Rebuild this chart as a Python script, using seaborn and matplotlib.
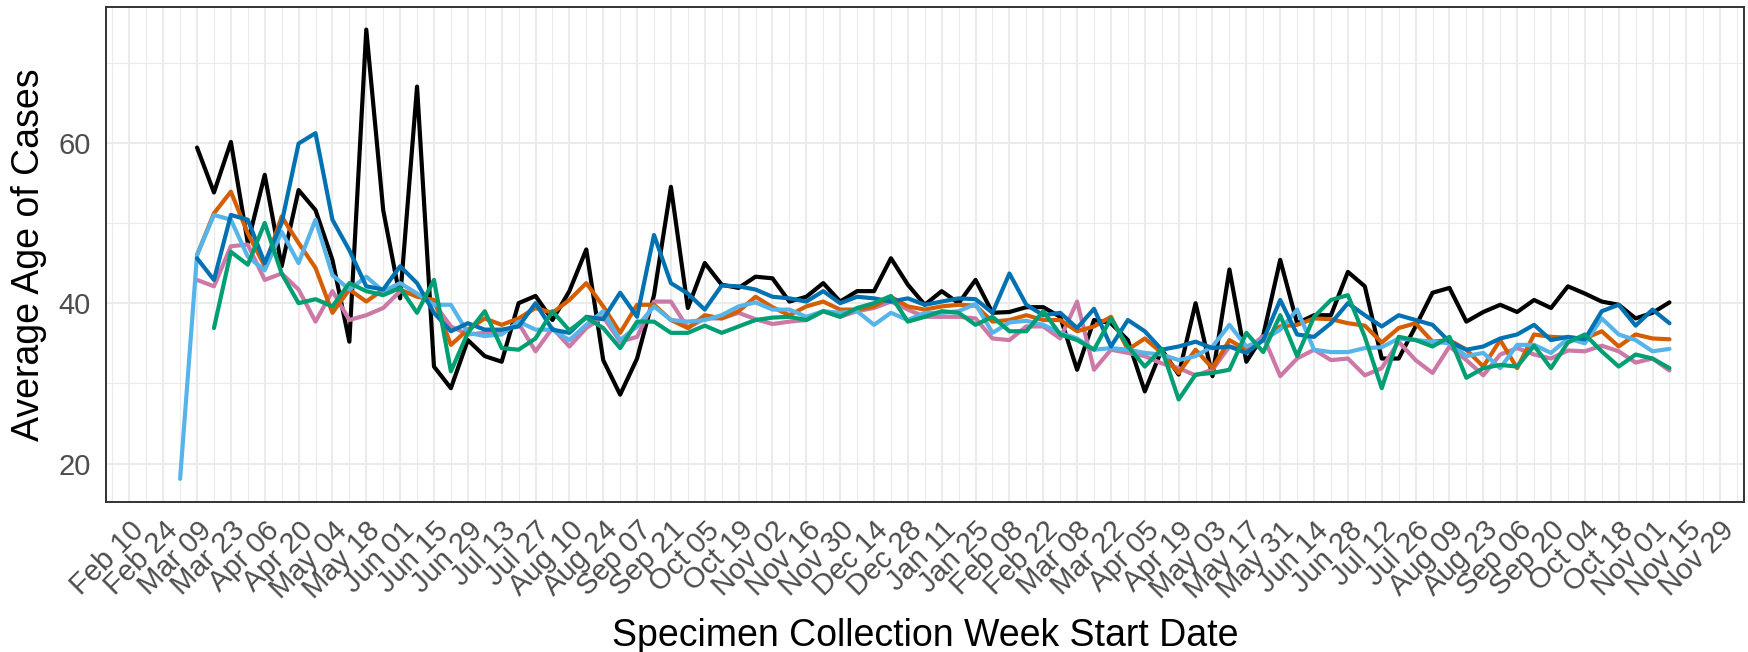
import numpy as np
import pandas as pd
import matplotlib
matplotlib.use("Agg")
import matplotlib.pyplot as plt
import matplotlib.dates as mdates
import seaborn as sns

nan = np.nan

# weekly values, week of 2020-03-02 .. 2021-11-08
black = [nan, 59.4, 53.8, 60.1, 47.5, 56.0, 44.6, 54.1, 51.6, 45.4,
         35.2, 74.1, 51.6, 40.6, 67.0, 32.1, 29.4, 35.4, 33.4, 32.7,
         40.0, 40.9, 37.9, 41.5, 46.7, 32.9, 28.6, 33.1, 41.0, 54.5,
         39.4, 45.0, 42.3, 41.9, 43.3, 43.1, 40.2, 40.8, 42.5, 40.2,
         41.5, 41.5, 45.6, 42.3, 39.8, 41.5, 40.0, 42.9, 38.8, 38.9,
         39.5, 39.5, 38.3, 31.7, 37.9, 37.5, 35.4, 29.0, 34.2, 31.1,
         40.0, 30.9, 44.2, 32.7, 36.0, 45.4, 37.5, 38.5, 38.5, 43.9,
         42.1, 33.1, 33.1, 37.1, 41.3, 41.9, 37.7, 38.9, 39.8, 38.9,
         40.4, 39.4, 42.1, 41.2, 40.2, 39.8, 38.1, 38.8, 40.1]

blue = [nan, 45.6, 42.9, 51.0, 50.4, 45.0, 50.0, 59.9, 61.2, 50.4,
        46.6, 42.1, 41.7, 44.6, 42.5, 38.8, 36.5, 37.5, 36.7, 36.7,
        37.1, 40.0, 36.7, 36.3, 38.3, 38.0, 41.3, 38.3, 48.5, 42.5,
        41.2, 39.2, 42.2, 42.1, 41.7, 40.8, 40.6, 40.2, 41.5, 40.0,
        40.8, 40.6, 40.2, 40.6, 39.8, 40.2, 40.6, 40.5, 38.8, 43.7,
        39.8, 38.5, 38.8, 36.9, 39.3, 34.6, 37.9, 36.5, 34.2, 34.6,
        35.2, 34.4, 34.6, 33.8, 35.4, 40.4, 36.1, 35.8, 37.5, 40.0,
        38.5, 37.1, 38.5, 37.9, 37.3, 35.2, 34.2, 34.6, 35.6, 36.1,
        37.3, 35.4, 35.8, 35.5, 39.0, 39.8, 37.2, 39.2, 37.5]

orange = [nan, 46.0, 51.2, 53.9, 48.7, 44.6, 50.8, 47.5, 44.4, 38.8,
          41.7, 40.2, 41.7, 41.7, 40.8, 40.4, 34.8, 36.7, 38.1, 37.3,
          38.1, 39.4, 38.8, 40.4, 42.5, 39.6, 36.3, 39.8, 39.8, 37.9,
          36.9, 38.5, 38.1, 39.0, 40.8, 39.5, 38.5, 39.6, 40.2, 39.2,
          39.2, 39.6, 40.8, 39.6, 39.2, 39.6, 39.8, 39.7, 37.7, 37.9,
          38.5, 37.9, 37.9, 36.5, 37.1, 38.3, 34.2, 35.6, 33.8, 31.3,
          34.2, 31.9, 35.4, 34.2, 35.4, 37.1, 37.3, 38.1, 38.0, 37.5,
          37.2, 35.1, 36.9, 37.5, 35.2, 35.4, 34.2, 32.1, 35.4, 31.9,
          36.1, 35.8, 35.7, 35.6, 36.5, 34.6, 36.1, 35.6, 35.5]

lightblue = [18.1, 46.0, 51.0, 50.4, 45.8, 44.1, 48.9, 45.0, 50.4, 43.5,
             41.7, 43.3, 41.5, 42.5, 41.2, 39.8, 39.8, 36.3, 35.9, 36.1,
             37.7, 36.7, 36.7, 35.4, 37.3, 39.0, 35.4, 37.1, 39.6, 37.9,
             37.7, 37.9, 38.5, 39.6, 40.1, 39.2, 39.2, 38.3, 39.0, 38.8,
             39.0, 37.3, 38.8, 37.9, 38.8, 38.8, 39.0, 39.9, 36.3, 37.6,
             37.8, 37.3, 36.3, 35.6, 34.2, 34.4, 34.2, 33.8, 33.6, 32.9,
             33.4, 34.6, 37.3, 34.6, 35.4, 36.7, 39.2, 34.2, 33.9, 33.9,
             34.4, 34.5, 35.6, 35.4, 35.2, 35.0, 33.4, 33.8, 31.9, 34.8,
             34.8, 33.8, 35.6, 35.0, 38.1, 36.1, 35.4, 34.0, 34.3]

pink = [nan, 42.9, 42.1, 47.1, 47.3, 42.9, 43.7, 41.7, 37.7, 41.5,
        37.9, 38.5, 39.4, 41.5, 41.0, 40.0, 37.1, 36.1, 36.3, 36.3,
        37.5, 34.0, 36.9, 34.6, 36.9, 38.3, 35.2, 35.8, 40.2, 40.2,
        36.9, 38.1, 38.1, 38.8, 38.0, 37.4, 37.7, 37.9, 39.0, 38.3,
        39.0, 39.4, 40.2, 39.2, 38.3, 38.3, 38.3, 38.1, 35.6, 35.4,
        37.1, 37.1, 35.6, 40.2, 31.7, 34.2, 33.8, 33.4, 32.5, 31.9,
        31.0, 31.7, 34.6, 34.2, 35.9, 30.9, 33.1, 34.2, 32.9, 33.1,
        31.0, 31.9, 35.2, 32.9, 31.3, 34.6, 32.9, 31.0, 33.6, 34.4,
        33.6, 33.1, 34.1, 34.0, 34.7, 34.0, 32.6, 33.1, 31.6]

green = [nan, nan, 36.9, 46.4, 44.8, 50.0, 43.7, 40.0, 40.5, 39.6,
         42.5, 41.5, 41.0, 41.9, 38.8, 42.9, 31.5, 36.3, 39.0, 34.4,
         34.2, 35.6, 39.0, 36.6, 38.2, 36.9, 34.4, 37.7, 37.7, 36.3,
         36.3, 37.2, 36.3, 37.1, 37.9, 38.2, 38.3, 37.9, 39.0, 38.3,
         39.4, 40.0, 40.9, 37.7, 38.3, 39.0, 38.8, 37.3, 38.3, 36.5,
         36.5, 39.0, 36.1, 35.4, 34.2, 38.1, 34.6, 32.1, 34.3, 28.0,
         31.1, 31.3, 31.7, 36.3, 33.9, 38.5, 33.4, 38.3, 40.4, 41.0,
         35.8, 29.4, 35.8, 35.4, 34.6, 35.8, 30.7, 31.9, 32.3, 32.1,
         34.7, 31.9, 35.1, 36.1, 34.0, 32.1, 33.6, 33.1, 31.9]

weeks = pd.date_range("2020-03-02", periods=len(black), freq="7D")

groups = ["black", "pink", "orange", "lightblue", "blue", "green"]
colors = {"black": "#000000", "orange": "#D55E00", "blue": "#0072B2",
          "pink": "#CC79A7", "green": "#009E73", "lightblue": "#56B4E9"}
series = {"black": black, "orange": orange, "blue": blue,
          "pink": pink, "green": green, "lightblue": lightblue}

df = pd.concat([pd.DataFrame({"week": weeks, "age": series[g], "group": g})
                for g in groups]).dropna()

sns.set_style("white")
plt.rcParams["font.family"] = ["Liberation Sans", "DejaVu Sans"]

fig, ax = plt.subplots(figsize=(17.49, 6.52), dpi=100)
fig.subplots_adjust(left=0.0604, right=0.9971, top=0.989, bottom=0.2305)

sns.lineplot(data=df, x="week", y="age", hue="group", hue_order=groups,
             palette=colors, estimator=None, linewidth=3.0, legend=False, ax=ax)

# ggplot-like limits with 5% expansion
pad = pd.Timedelta(days=0.05 * (weeks[-1] - weeks[0]).days)
ax.set_xlim(weeks[0] - pad, weeks[-1] + pad)
ax.set_ylim(15.25, 76.9)

major = pd.date_range("2020-02-10", "2021-11-29", freq="14D")
minor = pd.date_range("2020-02-03", "2021-12-06", freq="14D")
ax.xaxis.set_major_locator(matplotlib.ticker.FixedLocator(mdates.date2num(major)))
ax.xaxis.set_minor_locator(matplotlib.ticker.FixedLocator(mdates.date2num(minor)))
ax.xaxis.set_major_formatter(mdates.DateFormatter("%b %d"))
ax.set_yticks([20, 40, 60])
ax.set_yticks([30, 50, 70], minor=True)

ax.set_axisbelow(True)
ax.grid(which="major", color="#EBEBEB", linewidth=1.5)
ax.grid(which="minor", color="#EBEBEB", linewidth=0.8)
for s in ax.spines.values():
    s.set_color("#333333")
    s.set_linewidth(1.4)

ax.tick_params(which="major", direction="out", length=6.5, width=1.4,
               color="#333333", labelcolor="#4D4D4D", labelsize=21, pad=4)
ax.tick_params(which="minor", length=0)
plt.setp(ax.get_xticklabels(), rotation=45, ha="right", va="top",
         rotation_mode="anchor")

ax.set_xlabel("Specimen Collection Week Start Date", fontsize=27, color="black")
ax.set_ylabel("Average Age of Cases", fontsize=27, color="black")
ax.xaxis.set_label_coords(0.5, -0.235)
ax.yaxis.set_label_coords(-0.036, 0.5)

fig.savefig("out.png", dpi=100)
